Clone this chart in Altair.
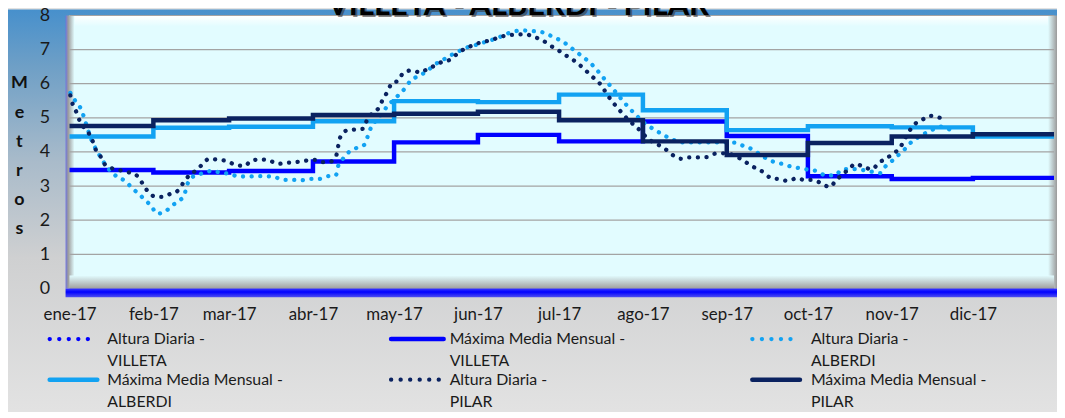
import altair as alt
import pandas as pd

# ------------------------------------------------------------------ data
title_text = "VILLETA - ALBERDI - PILAR"
month_abbr = ["ene", "feb", "mar", "abr", "may", "jun", "jul", "ago", "sep", "oct", "nov", "dic"]
year_suffix = "-17"
y_ticks = [0, 1, 2, 3, 4, 5, 6, 7, 8]

# monthly maximum mean (step series), Jan..Dec 2017
villeta_max = [3.47, 3.40, 3.44, 3.72, 4.28, 4.50, 4.31, 4.89, 4.47, 3.29, 3.21, 3.24]
alberdi_max = [4.45, 4.71, 4.74, 4.90, 5.49, 5.46, 5.68, 5.22, 4.64, 4.75, 4.72, 4.45]
pilar_max = [4.76, 4.93, 4.98, 5.08, 5.12, 5.18, 4.93, 4.31, 3.91, 4.26, 4.45, 4.52]

# daily heights (day of year offset from 1 Jan 2017, metres)
alberdi_day = [0.3, 2.1, 3.9, 5.0, 6.0, 7.9, 9.5, 11.4, 13.3, 15.3, 17.8, 20.8, 23.1, 25.5,
               27.9, 30.3, 32.3, 35.4, 37.5, 40.4, 42.5, 43.3, 44.2, 46.4, 49.7, 52.7, 55.9,
               59.1, 62.5, 65.7, 69.0, 72.4, 75.7, 78.9, 82.3, 85.6, 88.9, 92.2, 95.6, 98.5,
               99.3, 101.1, 103.2, 106.2, 109.2, 110.3, 111.5, 113.6, 115.8, 117.8, 120.0,
               121.9, 124.1, 126.0, 128.8, 131.9, 134.8, 137.7, 140.4, 143.2, 146.5, 149.5,
               152.7, 155.7, 159.1, 161.9, 164.8, 168.1, 171.5, 174.8, 177.8, 181.0, 183.9,
               186.6, 189.1, 191.5, 193.8, 196.2, 198.4, 200.7, 202.8, 204.9, 207.1, 209.4,
               211.4, 214.3, 217.2, 220.0, 222.8, 225.9, 229.5, 232.9, 236.6, 240.5, 246.0,
               249.1, 252.1, 254.9, 257.6, 260.4, 263.5, 266.8, 270.1, 273.3, 276.6, 279.6,
               283.0, 285.5, 289.4, 294.9, 299.7, 301.6, 304.0, 306.2, 308.7, 310.7, 313.6,
               316.4, 319.3, 322.3, 325.4]
alberdi_height = [5.73, 5.50, 5.31, 5.10, 4.85, 4.40, 4.12, 3.86, 3.62, 3.43, 3.26, 3.14, 2.94, 2.78,
                  2.59, 2.41, 2.19, 2.25, 2.41, 2.56, 2.75, 3.00, 3.15, 3.31, 3.38, 3.45, 3.39,
                  3.36, 3.28, 3.28, 3.29, 3.29, 3.27, 3.18, 3.18, 3.17, 3.21, 3.21, 3.29, 3.32,
                  3.58, 3.80, 3.99, 4.12, 4.22, 4.47, 4.72, 4.95, 5.15, 5.38, 5.53,
                  5.69, 5.87, 6.08, 6.22, 6.35, 6.55, 6.68, 6.81, 6.92, 7.05, 7.12,
                  7.20, 7.27, 7.37, 7.47, 7.54, 7.56, 7.54, 7.51, 7.41, 7.29, 7.15,
                  6.98, 6.83, 6.68, 6.51, 6.29, 6.08, 5.87, 5.67, 5.47, 5.27, 5.09,
                  4.92, 4.75, 4.61, 4.48, 4.37, 4.28, 4.28, 4.28, 4.28, 4.28, 4.27,
                  4.18, 4.09, 3.95, 3.81, 3.71, 3.65, 3.57, 3.52, 3.48, 3.43, 3.31,
                  3.31, 3.48, 3.50, 3.45, 3.38, 3.57, 3.73, 3.89, 4.07, 4.25, 4.42,
                  4.55, 4.66, 4.74, 4.66]

pilar_day = [0.3, 1.2, 2.7, 3.9, 6.7, 8.3, 9.5, 11.4, 12.9, 15.4, 18.4, 21.6, 24.7, 26.7, 28.5,
             30.9, 34.0, 37.0, 40.3, 42.1, 44.2, 46.8, 49.2, 51.6, 55.0, 58.4, 61.3, 64.6, 67.4,
             70.6, 73.9, 77.0, 80.3, 83.6, 86.9, 90.4, 93.4, 96.7, 98.6, 99.3, 100.1, 102.5,
             105.6, 108.7, 109.9, 112.1, 114.4, 115.9, 117.6, 119.2, 121.6, 123.4, 126.5, 129.7,
             132.5, 135.3, 137.7, 141.0, 143.5, 146.3, 149.3, 152.4, 155.7, 159.0, 162.2, 165.5,
             168.5, 171.8, 174.7, 177.7, 180.5, 183.3, 186.0, 188.3, 191.1, 193.5, 196.1, 198.1,
             200.4, 202.8, 205.0, 207.3, 209.9, 214.5, 217.7, 220.5, 223.0, 226.1, 229.0, 232.2,
             235.5, 238.7, 242.0, 245.0, 248.1, 250.8, 253.8, 256.7, 259.2, 262.5, 265.7, 268.9,
             271.7, 274.8, 278.0, 281.1, 283.3, 285.7, 288.2, 290.6, 293.7, 296.7, 299.2, 301.9,
             304.9, 307.1, 308.7, 310.4, 312.6, 315.4, 318.3, 321.5, 324.5]
pilar_height = [5.66, 5.39, 5.14, 4.88, 4.60, 4.37, 4.10, 3.88, 3.65, 3.53, 3.47, 3.41, 3.32, 3.11, 2.89,
                2.71, 2.68, 2.76, 2.88, 3.10, 3.31, 3.46, 3.64, 3.80, 3.77, 3.73, 3.62, 3.59, 3.75,
                3.78, 3.75, 3.65, 3.68, 3.70, 3.74, 3.77, 3.70, 3.72, 3.89, 4.16, 4.43, 4.63,
                4.66, 4.68, 4.92, 5.14, 5.30, 5.55, 5.77, 6.02, 6.09, 6.32, 6.39, 6.33,
                6.44, 6.54, 6.64, 6.71, 6.89, 7.03, 7.13, 7.22, 7.27, 7.37, 7.42, 7.44,
                7.45, 7.37, 7.28, 7.12, 6.99, 6.84, 6.71, 6.57, 6.37, 6.19, 6.00, 5.77,
                5.50, 5.28, 5.07, 4.89, 4.71, 4.35, 4.21, 4.07, 3.91, 3.80, 3.84, 3.84,
                3.85, 3.95, 3.96, 3.92, 3.80, 3.66, 3.52, 3.40, 3.24, 3.20, 3.15, 3.23,
                3.18, 3.18, 3.08, 2.97, 3.16, 3.33, 3.50, 3.65, 3.56, 3.49, 3.68, 3.81,
                3.97, 4.13, 4.36, 4.60, 4.82, 4.95, 5.06, 5.01, 4.90]

legend_line1 = ["Altura Diaria -", "Máxima Media Mensual -", "Altura Diaria -",
                "Máxima Media Mensual -", "Altura Diaria -", "Máxima Media Mensual -"]
legend_line2 = ["VILLETA", "VILLETA", "ALBERDI", "ALBERDI", "PILAR", "PILAR"]

# ------------------------------------------------------------------ styles
C_VILLETA = "#0000FF"
C_ALBERDI = "#12A2F2"
C_PILAR = "#0A2260"
legend_colors = [C_VILLETA, C_VILLETA, C_ALBERDI, C_ALBERDI, C_PILAR, C_PILAR]
legend_dotted = [True, False, True, False, True, False]
PLOT_BG = "#E2FCFF"
FONT = "Lato"
W, H = 992, 275

base_day = pd.Timestamp("2017-01-01")


def iso(d):
    return (base_day + pd.Timedelta(days=float(d))).strftime("%Y-%m-%dT%H:%M:%S")


def monthly_frame(values):
    dates = [f"2017-{m:02d}-01T00:00:00" for m in range(1, 13)] + ["2017-12-31T00:00:00"]
    return pd.DataFrame({"date": dates, "v": list(values) + [values[-1]]})


def daily_frame(days, heights):
    return pd.DataFrame({"date": [iso(d) for d in days], "v": heights})


x_scale = alt.Scale(domain=[alt.DateTime(year=2017, month=1, date=1),
                            alt.DateTime(year=2017, month=12, date=31)])
y_scale = alt.Scale(domain=[0, 8], nice=False, zero=True)

label_expr = "[" + ",".join(f"'{m}'" for m in month_abbr) + "][month(datum.value)] + '" + year_suffix + "'"
x_axis = alt.Axis(values=[alt.DateTime(year=2017, month=m, date=1) for m in range(1, 13)],
                  labelExpr=label_expr, title=None, grid=False, domain=False, ticks=False,
                  labelFont=FONT, labelFontSize=17, labelColor="#1a1a1a", labelPadding=18,
                  labelAlign="center", labelOverlap=False, zindex=1)
y_axis = alt.Axis(values=y_ticks, title=["M", "e", "t", "r", "o", "s"], grid=False, domain=False,
                  ticks=False, labelFont=FONT, labelFontSize=18, labelColor="#1a1a1a",
                  labelPadding=20, titleAngle=0, titleX=-51, titleY=68, titleAlign="center",
                  titleBaseline="middle", titleLineHeight=29.3, titleFont=FONT, titleFontSize=18,
                  titleFontWeight="bold", titleColor="#111111", zindex=1)

X = alt.X("date:T", scale=x_scale, axis=x_axis)
Y = alt.Y("v:Q", scale=y_scale, axis=y_axis)

one = pd.DataFrame({"k": [0]})


def grad(stops, vertical=True):
    return alt.LinearGradient(gradient="linear",
                              stops=[alt.GradientStop(color=c, offset=o) for o, c in stops],
                              x1=0, y1=0, x2=0 if vertical else 1, y2=1 if vertical else 0)


def rect(x1, x2, y1, y2, fill):
    return alt.Chart(one).mark_rect(fill=fill, strokeWidth=0).encode(
        x=alt.value(x1), x2=alt.value(x2), y=alt.value(y1), y2=alt.value(y2))


layers = []
# whole chart background
layers.append(rect(-62, W + 3, -6, H + 123,
                   grad([(0, "#4790CC"), (0.14, "#6E9FC6"), (0.38, "#A9BBCA"),
                         (0.62, "#CFD0D1"), (1, "#E2E2E2")])))
# plot area + bevels
layers.append(rect(0, W, 0, H, PLOT_BG))
layers.append(rect(0, W, 0, 11, grad([(0, "#FFFFFF"), (1, PLOT_BG)])))
layers.append(rect(-4, 5, 0, H, grad([(0, "#6E72E0"), (0.3, "#9C9C9C"), (1, PLOT_BG)], vertical=False)))
layers.append(rect(W - 6, W + 3, 0, H, grad([(0, PLOT_BG), (1, "#9A9A9A")], vertical=False)))
layers.append(rect(0, W, H - 13, H, grad([(0, PLOT_BG), (1, "#A0A0A0")])))

# gridlines through the y scale
layers.append(alt.Chart(pd.DataFrame({"v": y_ticks})).mark_rule(color="#A3A3A3", strokeWidth=1.2).encode(y=Y))


def step_line(values, color):
    return alt.Chart(monthly_frame(values)).mark_line(
        interpolate="step-after", color=color, strokeWidth=4.5).encode(x=X, y=Y)


def dotted_line(days, heights, color):
    return alt.Chart(daily_frame(days, heights)).mark_line(
        interpolate="monotone", color=color, strokeWidth=4.3, strokeCap="round",
        strokeDash=[0.1, 8.6]).encode(x=X, y=Y)


layers.append(step_line(villeta_max, C_VILLETA))
layers.append(dotted_line(alberdi_day, alberdi_height, C_ALBERDI))
layers.append(step_line(alberdi_max, C_ALBERDI))
layers.append(dotted_line(pilar_day, pilar_height, C_PILAR))
layers.append(step_line(pilar_max, C_PILAR))

# blue floor band
layers.append(rect(-4, W + 3, H, H + 9, grad([(0, "#3B3BFF"), (0.4, "#0000FF"), (1, "#5050F0")])))

# title (cut at the top like the original) with shadow
layers.append(alt.Chart(one).mark_text(font=FONT, fontSize=31, fontWeight="bold", align="center",
                                       baseline="alphabetic", color="#3a3a3a", opacity=0.6,
                                       dx=2, dy=2).encode(
    x=alt.value(452), y=alt.value(0), text=alt.value(title_text)))
layers.append(alt.Chart(one).mark_text(font=FONT, fontSize=31, fontWeight="bold", align="center",
                                       baseline="alphabetic", color="#000000").encode(
    x=alt.value(452), y=alt.value(0), text=alt.value(title_text)))

# legend (3 columns x 2 rows)
col_sym_x = [(-20, 28), (324, 377), (688, 736)]
col_text_x = [38, 383, 747]
row_y = [326, 367]
for i in range(6):
    r, c = divmod(i, 3)
    sx1, sx2 = col_sym_x[c]
    kw = dict(color=legend_colors[i], strokeWidth=4.3 if legend_dotted[i] else 4.5)
    if legend_dotted[i]:
        kw.update(strokeDash=[0.1, 9.5], strokeCap="round")
    else:
        kw.update(strokeCap="round")
    layers.append(alt.Chart(one).mark_rule(**kw).encode(
        x=alt.value(sx1), x2=alt.value(sx2), y=alt.value(row_y[r])))
    for j, txt in enumerate([legend_line1[i], legend_line2[i]]):
        layers.append(alt.Chart(one).mark_text(font=FONT, fontSize=16, align="left",
                                               baseline="middle", color="#1a1a1a").encode(
            x=alt.value(col_text_x[c]), y=alt.value(row_y[r] + 22 * j), text=alt.value(txt)))

chart = alt.layer(*layers).properties(
    width=W, height=H,
    autosize=alt.AutoSizeParams(type="none"),
    padding={"left": 62, "top": 6, "right": 3, "bottom": 123},
).configure_view(stroke=None).configure(background="#E2E2E2")

chart.save("out.html", embed_options={"renderer": "svg", "actions": False})
